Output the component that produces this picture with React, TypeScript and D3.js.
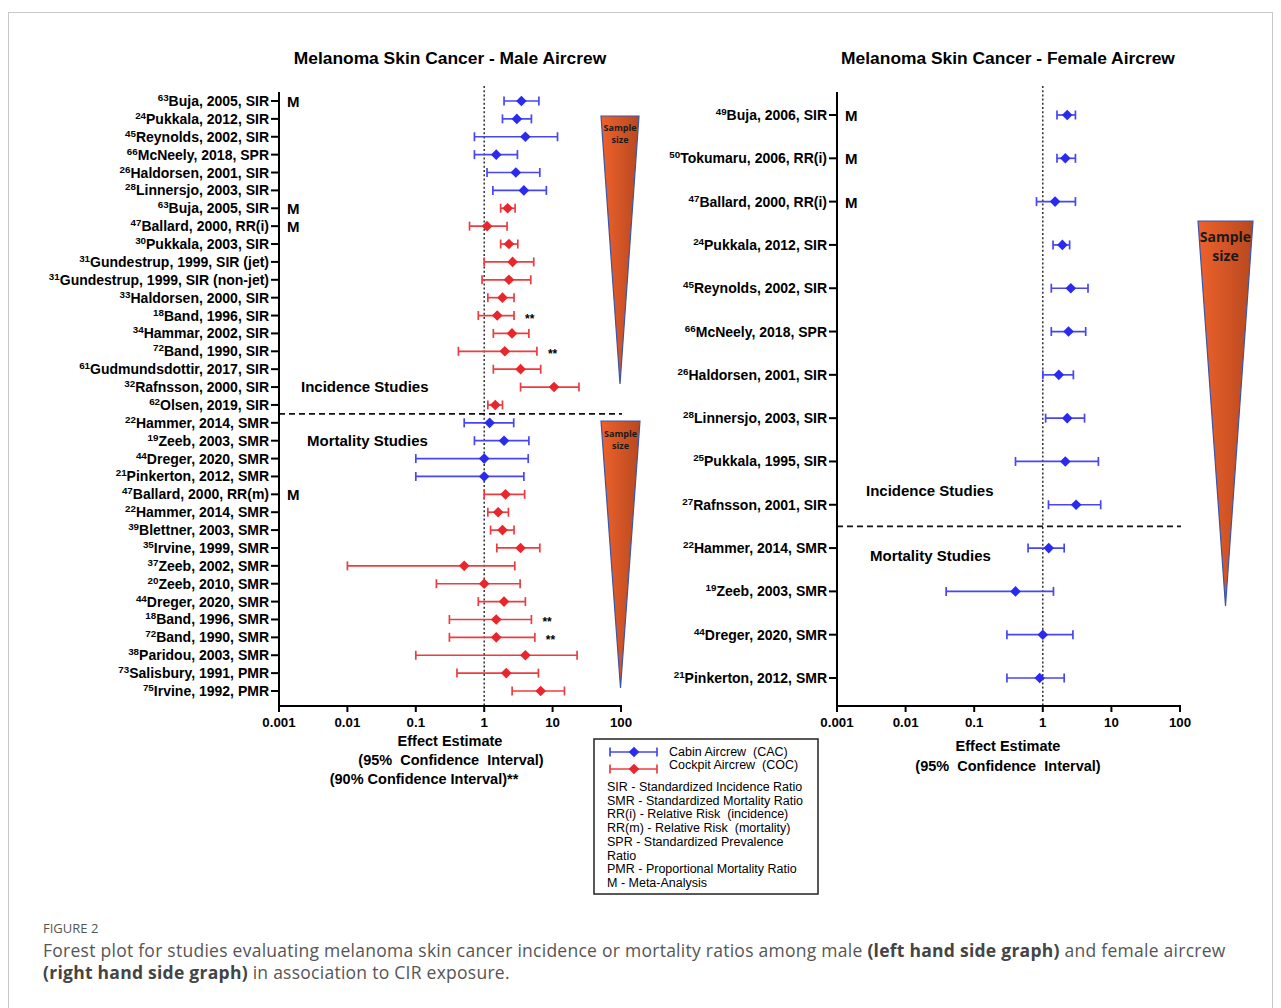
import React from 'react';
import * as d3 from 'd3';

// ---- data: male aircrew (left) ----
const maleRefs = [63, 24, 45, 66, 26, 28, 63, 47, 30, 31, 31, 33, 18, 34, 72, 61, 32, 62, 22, 19, 44, 21, 47, 22, 39, 35, 37, 20, 44, 18, 72, 38, 73, 75];
const maleStudies = [
  'Buja, 2005, SIR', 'Pukkala, 2012, SIR', 'Reynolds, 2002, SIR', 'McNeely, 2018, SPR', 'Haldorsen, 2001, SIR',
  'Linnersjo, 2003, SIR', 'Buja, 2005, SIR', 'Ballard, 2000, RR(i)', 'Pukkala, 2003, SIR', 'Gundestrup, 1999, SIR (jet)',
  'Gundestrup, 1999, SIR (non-jet)', 'Haldorsen, 2000, SIR', 'Band, 1996, SIR', 'Hammar, 2002, SIR', 'Band, 1990, SIR',
  'Gudmundsdottir, 2017, SIR', 'Rafnsson, 2000, SIR', 'Olsen, 2019, SIR', 'Hammer, 2014, SMR', 'Zeeb, 2003, SMR',
  'Dreger, 2020, SMR', 'Pinkerton, 2012, SMR', 'Ballard, 2000, RR(m)', 'Hammer, 2014, SMR', 'Blettner, 2003, SMR',
  'Irvine, 1999, SMR', 'Zeeb, 2002, SMR', 'Zeeb, 2010, SMR', 'Dreger, 2020, SMR', 'Band, 1996, SMR',
  'Band, 1990, SMR', 'Paridou, 2003, SMR', 'Salisbury, 1991, PMR', 'Irvine, 1992, PMR',
];
const maleCrew = [
  'CAC', 'CAC', 'CAC', 'CAC', 'CAC', 'CAC',
  'COC', 'COC', 'COC', 'COC', 'COC', 'COC', 'COC', 'COC', 'COC', 'COC', 'COC', 'COC',
  'CAC', 'CAC', 'CAC', 'CAC',
  'COC', 'COC', 'COC', 'COC', 'COC', 'COC', 'COC', 'COC', 'COC', 'COC', 'COC', 'COC',
];
const maleEst = [3.5, 3.0, 4.0, 1.5, 2.9, 3.8, 2.2, 1.1, 2.3, 2.6, 2.3, 1.85, 1.55, 2.55, 2.0, 3.4, 10.5, 1.45, 1.2, 1.95, 1.0, 1.0, 2.05, 1.6, 1.85, 3.4, 0.51, 1.0, 1.95, 1.5, 1.5, 4.0, 2.1, 6.7];
const maleLow = [1.95, 1.85, 0.72, 0.72, 1.1, 1.34, 1.74, 0.61, 1.74, 1.0, 0.93, 1.13, 0.82, 1.36, 0.42, 1.36, 3.4, 1.13, 0.51, 0.72, 0.1, 0.1, 1.0, 1.13, 1.24, 1.53, 0.01, 0.2, 0.82, 0.31, 0.31, 0.1, 0.4, 2.56];
const maleHigh = [6.3, 4.9, 11.8, 3.06, 6.5, 8.1, 2.83, 2.16, 3.1, 5.3, 4.8, 2.73, 2.73, 4.5, 5.9, 6.7, 24.3, 1.85, 2.7, 4.5, 4.4, 3.8, 3.9, 2.26, 2.73, 6.5, 2.8, 3.35, 4.0, 4.9, 5.5, 22.8, 6.2, 14.9];
const maleMeta = [0, 6, 7, 22];
const maleStars = [12, 14, 29, 30];

// ---- data: female aircrew (right) ----
const femaleRefs = [49, 50, 47, 24, 45, 66, 26, 28, 25, 27, 22, 19, 44, 21];
const femaleStudies = [
  'Buja, 2006, SIR', 'Tokumaru, 2006, RR(i)', 'Ballard, 2000, RR(i)', 'Pukkala, 2012, SIR', 'Reynolds, 2002, SIR',
  'McNeely, 2018, SPR', 'Haldorsen, 2001, SIR', 'Linnersjo, 2003, SIR', 'Pukkala, 1995, SIR', 'Rafnsson, 2001, SIR',
  'Hammer, 2014, SMR', 'Zeeb, 2003, SMR', 'Dreger, 2020, SMR', 'Pinkerton, 2012, SMR',
];
const femaleCrew = femaleStudies.map(() => 'CAC');
const femaleEst = [2.27, 2.13, 1.51, 1.93, 2.56, 2.37, 1.71, 2.27, 2.13, 3.06, 1.22, 0.4, 1.0, 0.9];
const femaleLow = [1.61, 1.61, 0.81, 1.41, 1.33, 1.33, 1.0, 1.1, 0.4, 1.21, 0.61, 0.039, 0.3, 0.3];
const femaleHigh = [2.99, 2.99, 2.99, 2.46, 4.56, 4.22, 2.79, 4.06, 6.46, 6.98, 2.05, 1.43, 2.75, 2.05];
const femaleMeta = [0, 1, 2];

const xTicks = [0.001, 0.01, 0.1, 1, 10, 100];
const xTickLabels = ['0.001', '0.01', '0.1', '1', '10', '100'];

// double spaces kept with a no-break space
const NB = ' \u00a0';
const legendNotes = [
  'SIR - Standardized Incidence Ratio',
  'SMR - Standardized Mortality Ratio',
  `RR(i) - Relative Risk${NB}(incidence)`,
  `RR(m) - Relative Risk${NB}(mortality)`,
  'SPR - Standardized Prevalence',
  'Ratio',
  'PMR - Proportional Mortality Ratio',
  'M - Meta-Analysis',
];

const FONT = '"Liberation Sans", Arial, Helvetica, sans-serif';
const colors = { CAC: '#2b2bf0', COC: '#e8262b' };
const lineColors = { CAC: '#4646f2', COC: '#ec3c40' };
const diamond = d3.symbol().type(d3.symbolDiamond2 || d3.symbolSquare).size(72)();

function ErrorBar({ x1, x2, xm, y, crew }) {
  return (
    <g>
      <line x1={x1} x2={x2} y1={y} y2={y} stroke={lineColors[crew]} strokeWidth={1.7} />
      <line x1={x1} x2={x1} y1={y - 4.5} y2={y + 4.5} stroke={lineColors[crew]} strokeWidth={1.7} />
      <line x1={x2} x2={x2} y1={y - 4.5} y2={y + 4.5} stroke={lineColors[crew]} strokeWidth={1.7} />
      <path d={diamond} transform={`translate(${xm},${y})`} fill={colors[crew]} />
    </g>
  );
}

function Forest({ x, y, refs, studies, crew, est, low, high, meta, stars, title, titleX, splitAfter, axisTop, axisBottom, labelSize }) {
  const [x0, x1] = x.range();
  const rows = d3.range(studies.length);
  const splitY = (y(splitAfter) + y(splitAfter + 1)) / 2;
  return (
    <g fontFamily={FONT}>
      <text x={titleX} y={64} textAnchor="middle" fontSize={17.4} fontWeight="bold">{title}</text>
      {/* reference line at 1 */}
      <line x1={x(1)} x2={x(1)} y1={axisTop - 6} y2={axisBottom} stroke="#222" strokeWidth={1.4} strokeDasharray="2,2.2" />
      {/* split between incidence and mortality */}
      <line x1={x0} x2={x1 + 1} y1={splitY} y2={splitY} stroke="#111" strokeWidth={1.8} strokeDasharray="6,4" />
      {/* axes */}
      <line x1={x0} x2={x0} y1={axisTop} y2={axisBottom} stroke="#000" strokeWidth={2} />
      <line x1={x0 - 1} x2={x1 + 1} y1={axisBottom} y2={axisBottom} stroke="#000" strokeWidth={2} />
      {xTicks.map((t, i) => (
        <g key={t}>
          <line x1={x(t)} x2={x(t)} y1={axisBottom} y2={axisBottom + 6} stroke="#000" strokeWidth={2} />
          <text x={x(t)} y={axisBottom + 21} textAnchor="middle" fontSize={13.3} fontWeight="bold">{xTickLabels[i]}</text>
        </g>
      ))}
      {rows.map((i) => (
        <g key={i}>
          <line x1={x0 - 8} x2={x0} y1={y(i)} y2={y(i)} stroke="#000" strokeWidth={2} />
          <text x={x0 - 10} y={y(i) + 5} textAnchor="end" fontWeight="bold" fontSize={labelSize}>
            <tspan fontSize={labelSize * 0.7} dy={-5}>{refs[i]}</tspan>
            <tspan dy={5}>{studies[i]}</tspan>
          </text>
          <ErrorBar x1={x(low[i])} x2={x(high[i])} xm={x(est[i])} y={y(i)} crew={crew[i]} />
        </g>
      ))}
      {meta.map((i) => (
        <text key={'m' + i} x={x0 + 8} y={y(i) + 6} fontSize={15} fontWeight="bold">M</text>
      ))}
      {stars.map((i) => (
        <text key={'s' + i} x={x(high[i]) + 11} y={y(i) + 7} fontSize={12} fontWeight="bold">**</text>
      ))}
    </g>
  );
}

function Wedge({ left, right, top, apex, fontSize, textY }) {
  const cx = (left + right) / 2;
  return (
    <g>
      <path d={`M${left},${top}L${right},${top}L${cx},${apex}Z`} fill="url(#wedgeGrad)" stroke="#3b56a8" strokeWidth={1.2} />
      <text x={cx} y={textY} textAnchor="middle" fontFamily='"Open Sans", "DejaVu Sans", sans-serif' fontWeight="bold" fontSize={fontSize} fill="#1a1a1a">
        <tspan x={cx}>Sample</tspan>
        <tspan x={cx} dy={fontSize * 1.35}>size</tspan>
      </text>
    </g>
  );
}

export default function App() {
  const xL = d3.scaleLog().domain([0.001, 100]).range([279, 621]);
  const yL = d3.scalePoint().domain(d3.range(maleStudies.length)).range([101, 691]);
  const xR = d3.scaleLog().domain([0.001, 100]).range([837, 1180]);
  const yR = d3.scalePoint().domain(d3.range(femaleStudies.length)).range([115, 678]);

  return (
    <svg width={1281} height={1008} style={{ position: 'absolute', left: 0, top: 0, background: '#fff' }}>
      <defs>
        <linearGradient id="wedgeGrad" x1="0" x2="1" y1="0" y2="0">
          <stop offset="0" stopColor="#ee622c" />
          <stop offset="1" stopColor="#b8481f" />
        </linearGradient>
      </defs>
      <rect x={8.5} y={12.5} width={1264} height={1010} fill="none" stroke="#c9c9c9" strokeWidth={1} />

      <Forest x={xL} y={yL} refs={maleRefs} studies={maleStudies} crew={maleCrew} est={maleEst} low={maleLow}
        high={maleHigh} meta={maleMeta} stars={maleStars} title="Melanoma Skin Cancer - Male Aircrew" titleX={450}
        splitAfter={17} axisTop={92} axisBottom={706} labelSize={14} />
      <Forest x={xR} y={yR} refs={femaleRefs} studies={femaleStudies} crew={femaleCrew} est={femaleEst} low={femaleLow}
        high={femaleHigh} meta={femaleMeta} stars={[]} title="Melanoma Skin Cancer - Female Aircrew" titleX={1008}
        splitAfter={9} axisTop={92} axisBottom={706} labelSize={14} />

      <g fontFamily={FONT} fontWeight="bold" fontSize={15}>
        <text x={301} y={392}>Incidence Studies</text>
        <text x={307} y={446}>Mortality Studies</text>
        <text x={866} y={496}>Incidence Studies</text>
        <text x={870} y={561}>Mortality Studies</text>
      </g>

      <g fontFamily={FONT} fontWeight="bold" fontSize={14.5} textAnchor="middle">
        <text x={450} y={746}>Effect Estimate</text>
        <text x={451} y={765}>{`(95%${NB}Confidence${NB}Interval)`}</text>
        <text x={424} y={784}>(90% Confidence Interval)**</text>
        <text x={1008} y={751}>Effect Estimate</text>
        <text x={1008} y={771}>{`(95%${NB}Confidence${NB}Interval)`}</text>
      </g>

      <Wedge left={601} right={639} top={116} apex={384} fontSize={9} textY={131} />
      <Wedge left={601} right={640} top={421} apex={688} fontSize={9} textY={437} />
      <Wedge left={1198} right={1253} top={221} apex={606} fontSize={14} textY={242} />

      {/* legend */}
      <g fontFamily={FONT} fontSize={12.5}>
        <rect x={594} y={739} width={224} height={155} fill="#fff" stroke="#222" strokeWidth={1.5} />
        <ErrorBar x1={610} x2={657} xm={634} y={752} crew="CAC" />
        <ErrorBar x1={610} x2={657} xm={634} y={769} crew="COC" />
        <text x={669} y={756}>{`Cabin Aircrew${NB}(CAC)`}</text>
        <text x={669} y={769}>{`Cockpit Aircrew${NB}(COC)`}</text>
        {legendNotes.map((t, i) => (
          <text key={t} x={607} y={791 + i * 13.7}>{t}</text>
        ))}
      </g>

      {/* caption */}
      <g fontFamily='"Open Sans", "DejaVu Sans", sans-serif' fill="#555">
        <text x={43} y={933} fontSize={13}>FIGURE 2</text>
        <text x={43} y={957} fontSize={17.5} letterSpacing={0.26}>
          Forest plot for studies evaluating melanoma skin cancer incidence or mortality ratios among male{' '}
          <tspan fontWeight="bold" fill="#444">(left hand side graph)</tspan> and female aircrew
        </text>
        <text x={43} y={979} fontSize={17.5} letterSpacing={0.26}>
          <tspan fontWeight="bold" fill="#444">(right hand side graph)</tspan> in association to CIR exposure.
        </text>
      </g>
    </svg>
  );
}
